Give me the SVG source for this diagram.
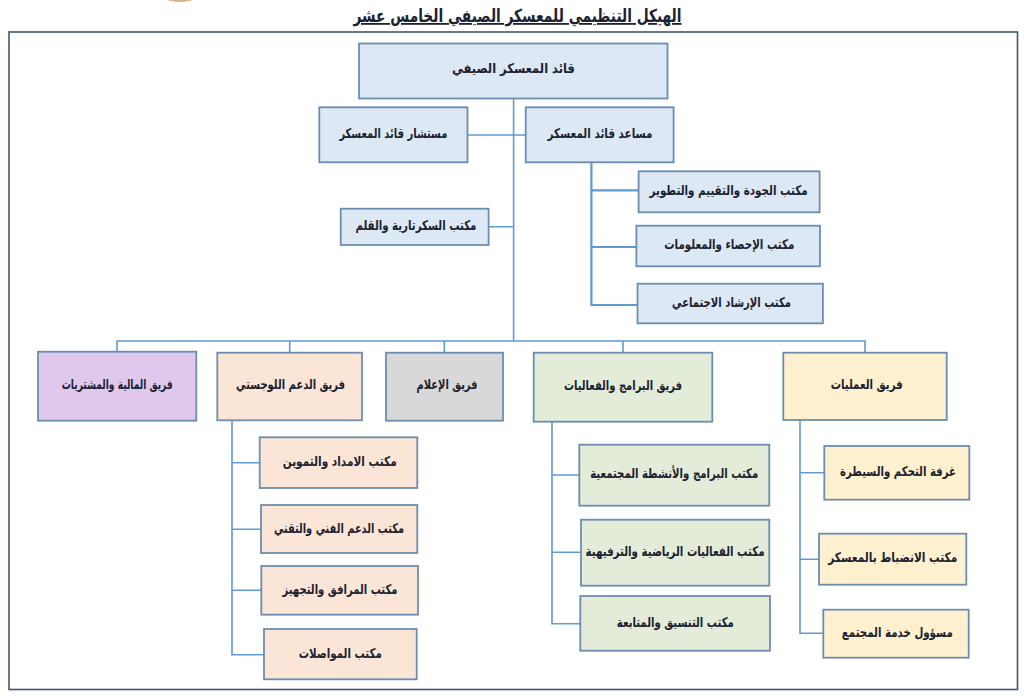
<svg xmlns="http://www.w3.org/2000/svg" width="1024" height="696" viewBox="0 0 1024 696">
<style>
text{font-family:"DejaVu Sans",sans-serif;font-weight:bold;font-size:13.5px;fill:#1c2230;text-anchor:middle;direction:rtl;}
rect{stroke:#6c8db0;stroke-width:1.8;}
.b{fill:#dde8f5}.o{fill:#fbe5d6}.g{fill:#e2ecd9}.y{fill:#fff0cf}.p{fill:#dfc8ec}.m{fill:#d8d8d8}
#connectors path{fill:none;stroke:#5f9bd0;stroke-width:1.6}
#connectors path.t{stroke-width:2.2}
</style>
<ellipse cx="180" cy="-1" rx="13" ry="3" fill="#d9b48f"/>
<rect id="frame" x="9" y="32" width="1008.5" height="657.5" fill="none" style="stroke:#44566f;stroke-width:1.6"/>
<text id="title" x="517.5" y="22" textLength="328" lengthAdjust="spacingAndGlyphs" style="font-size:18px;text-decoration:underline">الهيكل التنظيمي للمعسكر الصيفي الخامس عشر</text>
<g id="connectors">
<path d="M513.6 98V341M467.5 135H525.7M488.6 226.7H513.6"/>
<path class="t" d="M591.4 162V305H637.5M591.4 190.3H638.6M591.4 247H636.4"/>
<path d="M117 352V341H865V352.7M289.7 341V352.7M444.3 341V352.7M623 341V352.7"/>
<path d="M232 420V654.7H264M232 462.7H259.7M232 529.3H261M232 590.3H261.3"/>
<path d="M552 421.7V623.7H580.3M552 475H579.3M552 552.3H581"/>
<path d="M800 420V633.3H823.3M800 472.7H824.3M800 559.3H819"/>
</g>
<g id="n-leader"><rect class="b" x="359" y="43.5" width="308.5" height="55"/><text x="513.4" y="73" textLength="123" lengthAdjust="spacingAndGlyphs">قائد المعسكر الصيفي</text></g>
<g id="n-advisor"><rect class="b" x="319.3" y="107.3" width="148.2" height="55"/><text x="393.4" y="138" textLength="108" lengthAdjust="spacingAndGlyphs">مستشار قائد المعسكر</text></g>
<g id="n-assistant"><rect class="b" x="525.7" y="107.3" width="147.9" height="55"/><text x="600" y="138" textLength="105" lengthAdjust="spacingAndGlyphs">مساعد قائد المعسكر</text></g>
<g id="n-quality"><rect class="b" x="638.6" y="171.3" width="181" height="41"/><text x="728.6" y="195" textLength="158" lengthAdjust="spacingAndGlyphs">مكتب الجودة والتقييم والتطوير</text></g>
<g id="n-stats"><rect class="b" x="636.4" y="225.7" width="183.6" height="40.6"/><text x="729.3" y="249" textLength="130" lengthAdjust="spacingAndGlyphs">مكتب الإحصاء والمعلومات</text></g>
<g id="n-guidance"><rect class="b" x="637.5" y="283.7" width="185.4" height="39.6"/><text x="731.5" y="307" textLength="119" lengthAdjust="spacingAndGlyphs">مكتب الإرشاد الاجتماعي</text></g>
<g id="n-secretary"><rect class="b" x="340.7" y="208.7" width="147.9" height="36.3"/><text x="415.9" y="230" textLength="121" lengthAdjust="spacingAndGlyphs">مكتب السكرتارية والقلم</text></g>
<g id="n-finance"><rect class="p" x="38" y="351.7" width="158.3" height="69"/><text x="117.2" y="389" textLength="111" lengthAdjust="spacingAndGlyphs">فريق المالية والمشتريات</text></g>
<g id="n-logistics"><rect class="o" x="217.3" y="352.7" width="144.7" height="67.6"/><text x="290.6" y="389" textLength="109" lengthAdjust="spacingAndGlyphs">فريق الدعم اللوجستي</text></g>
<g id="n-media"><rect class="m" x="386" y="352.7" width="117" height="68"/><text x="447" y="389" textLength="61" lengthAdjust="spacingAndGlyphs">فريق الإعلام</text></g>
<g id="n-programs"><rect class="g" x="533.7" y="352.7" width="178.6" height="69"/><text x="623" y="390" textLength="118" lengthAdjust="spacingAndGlyphs">فريق البرامج والفعاليات</text></g>
<g id="n-operations"><rect class="y" x="783.3" y="352.7" width="163.4" height="67.3"/><text x="866.7" y="389" textLength="72" lengthAdjust="spacingAndGlyphs">فريق العمليات</text></g>
<g id="n-supply"><rect class="o" x="259.7" y="437.3" width="157.6" height="50.7"/><text x="339.7" y="466" textLength="114" lengthAdjust="spacingAndGlyphs">مكتب الامداد والتموين</text></g>
<g id="n-tech"><rect class="o" x="261" y="505" width="156.3" height="48"/><text x="339" y="532.7" textLength="130" lengthAdjust="spacingAndGlyphs">مكتب الدعم الفني والتقني</text></g>
<g id="n-facilities"><rect class="o" x="261.3" y="566" width="156.7" height="48.7"/><text x="340" y="593.7" textLength="115" lengthAdjust="spacingAndGlyphs">مكتب المرافق والتجهيز</text></g>
<g id="n-transport"><rect class="o" x="264" y="629" width="152.7" height="50.3"/><text x="340.3" y="658.3" textLength="83" lengthAdjust="spacingAndGlyphs">مكتب المواصلات</text></g>
<g id="n-community"><rect class="g" x="579.3" y="444.7" width="190" height="61"/><text x="674.2" y="478.3" textLength="168" lengthAdjust="spacingAndGlyphs">مكتب البرامج والأنشطة المجتمعية</text></g>
<g id="n-sports"><rect class="g" x="581" y="519.7" width="188.3" height="66"/><text x="675" y="556" textLength="179" lengthAdjust="spacingAndGlyphs">مكتب الفعاليات الرياضية والترفيهية</text></g>
<g id="n-coordination"><rect class="g" x="580.3" y="596" width="189.7" height="54.7"/><text x="675.3" y="627.3" textLength="117" lengthAdjust="spacingAndGlyphs">مكتب التنسيق والمتابعة</text></g>
<g id="n-control"><rect class="y" x="824.3" y="446" width="145" height="53.7"/><text x="898" y="475.7" textLength="116" lengthAdjust="spacingAndGlyphs">غرفة التحكم والسيطرة</text></g>
<g id="n-discipline"><rect class="y" x="819" y="533.7" width="147.3" height="51"/><text x="892.8" y="562.3" textLength="129" lengthAdjust="spacingAndGlyphs">مكتب الانضباط بالمعسكر</text></g>
<g id="n-service"><rect class="y" x="823.3" y="609.7" width="145.4" height="48"/><text x="897.3" y="636.7" textLength="111" lengthAdjust="spacingAndGlyphs">مسؤول خدمة المجتمع</text></g>
</svg>
